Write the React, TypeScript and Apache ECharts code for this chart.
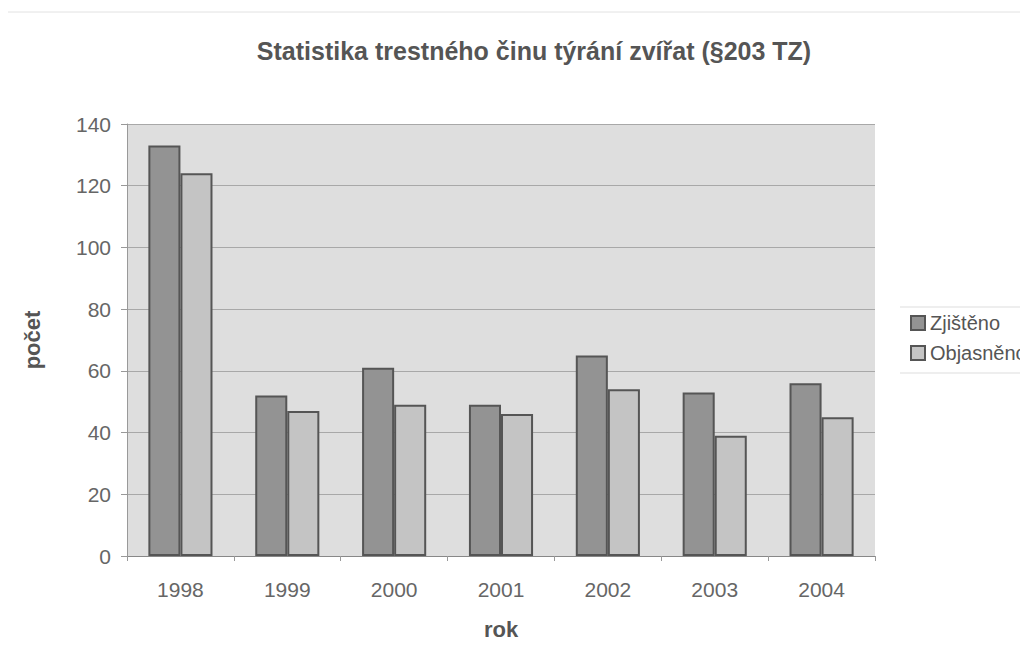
import React, { useEffect, useRef } from "react";
import * as echarts from "echarts";

const years = ["1998", "1999", "2000", "2001", "2002", "2003", "2004"];
const zjisteno = [133, 52, 61, 49, 65, 53, 56];
const objasneno = [124, 47, 49, 46, 54, 39, 45];

export default function App() {
  const ref = useRef<HTMLDivElement>(null);
  useEffect(() => {
    const chart = echarts.init(ref.current!, null, { renderer: "svg" });
    const font = "Liberation Sans, Arial, sans-serif";
    chart.setOption({
      animation: false,
      backgroundColor: "#ffffff",
      title: {
        text: "Statistika trestného činu týrání zvířat (§203 TZ)",
        left: 529,
        textAlign: "center",
        top: 33,
        textStyle: { fontFamily: font, fontSize: 25, fontWeight: "bold", color: "#555" },
      },
      grid: {
        left: 127,
        right: 153,
        top: 124,
        bottom: 110,
        show: true,
        backgroundColor: "#dedede",
        borderWidth: 0,
      },
      legend: {
        orient: "vertical",
        left: 910,
        top: 313,
        padding: 0,
        itemWidth: 14,
        itemHeight: 14,
        itemGap: 10,
        icon: "rect",
        textStyle: { fontFamily: font, fontSize: 20, color: "#555", padding: [0, 0, 0, 0] },
        data: ["Zjištěno", "Objasněno"],
      },
      graphic: [
        { type: "line", shape: { x1: 0, y1: 12, x2: 1028, y2: 12 }, style: { stroke: "#e2e2e2", lineWidth: 1 } },
        { type: "line", shape: { x1: 900, y1: 307, x2: 1028, y2: 307 }, style: { stroke: "#dddddd", lineWidth: 1 } },
        { type: "line", shape: { x1: 900, y1: 373, x2: 1028, y2: 373 }, style: { stroke: "#dddddd", lineWidth: 1 } },
      ],
      xAxis: {
        type: "category",
        data: years,
        name: "rok",
        nameLocation: "middle",
        nameGap: 62,
        nameTextStyle: { fontFamily: font, fontSize: 22, fontWeight: "bold", color: "#555" },
        axisLine: { lineStyle: { color: "#888" } },
        axisTick: { show: true, alignWithLabel: false, lineStyle: { color: "#999" } },
        axisLabel: { fontFamily: font, fontSize: 21, color: "#666", margin: 23 },
      },
      yAxis: {
        type: "value",
        min: 0,
        max: 140,
        interval: 20,
        name: "počet",
        nameLocation: "middle",
        nameGap: 84,
        nameTextStyle: { fontFamily: font, fontSize: 22, fontWeight: "bold", color: "#555" },
        axisLine: { show: true, lineStyle: { color: "#999" } },
        axisTick: { show: true, length: 6, lineStyle: { color: "#999" } },
        axisLabel: { fontFamily: font, fontSize: 21, color: "#666", margin: 16 },
        splitLine: { lineStyle: { color: "#a8a8a8" } },
      },
      series: [
        {
          name: "Zjištěno",
          type: "bar",
          data: zjisteno,
          barGap: "0%",
          barCategoryGap: "40%",
          itemStyle: { color: "#939393", borderColor: "#555", borderWidth: 2 },
        },
        {
          name: "Objasněno",
          type: "bar",
          data: objasneno,
          itemStyle: { color: "#c4c4c4", borderColor: "#555", borderWidth: 2 },
        },
      ],
    });
    return () => chart.dispose();
  }, []);
  return <div ref={ref} style={{ width: 1028, height: 666, margin: -8 }} />;
}
